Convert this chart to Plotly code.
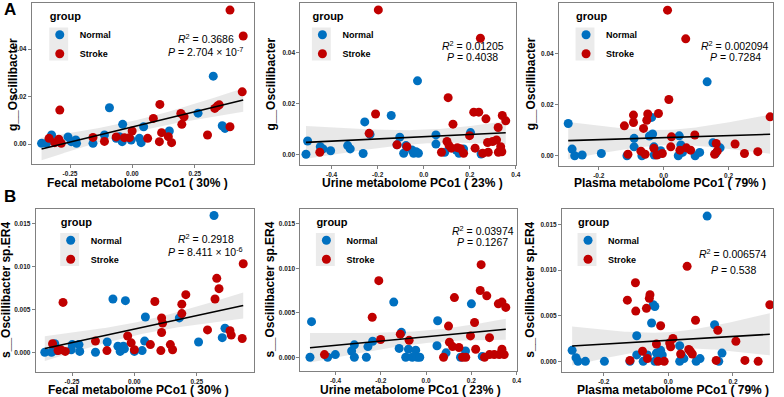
import numpy as np
import plotly.graph_objects as go

# ---------------- data ----------------
# Panel A1: Fecal PCo1 vs g__Oscillibacter
p1_normal_x = [-0.364, -0.344, -0.324, -0.258, -0.245, -0.227, -0.224, -0.158, -0.112, -0.092, -0.065, -0.052,
               -0.039, -0.041, -0.005, 0.028, 0.035, 0.045, 0.148, 0.263, 0.324, 0.360, 0.371]
p1_normal_y = [0.0003, 0.0003, 0.0038, 0.0030, 0.0010, 0.0017, 0.0003, 0.0003, 0.0038, 0.0153, 0.0024, 0.0031,
               0.0083, 0.0010, 0.0017, 0.0024, 0.0006, 0.0073, 0.0055, 0.0130, 0.0286, 0.0077, 0.0066]
p1_stroke_x = [-0.334, -0.311, -0.295, -0.291, -0.285, -0.158, -0.112, -0.065, -0.032, -0.012, -0.001, 0.061,
               0.084, 0.108, 0.110, 0.117, 0.144, 0.157, 0.194, 0.198, 0.207, 0.301, 0.330, 0.340, 0.348,
               0.391, 0.391, 0.440, 0.444]
p1_stroke_y = [0.0024, 0.0006, 0.0020, 0.0143, 0.0003, 0.0028, 0.0011, 0.0030, 0.0027, 0.0027, 0.0055, 0.0024,
               0.0108, 0.0010, 0.0167, 0.0048, 0.0031, 0.0006, 0.0129, 0.0083, 0.0115, 0.0038, 0.0150, 0.0160,
               0.0165, 0.0564, 0.0073, 0.0220, 0.0455]

# Panel A2: Urine PCo1 vs g__Oscillibacter
p2_normal_x = [-0.511, -0.504, -0.449, -0.437, -0.404, -0.330, -0.319, -0.263, -0.256, -0.233, -0.141, -0.116,
               -0.104, -0.087, -0.077, -0.051, -0.044, -0.033, -0.023, -0.027, 0.053, 0.053, 0.091, 0.141,
               0.153, 0.173, 0.203, 0.249]
p2_normal_y = [0.0000, 0.0052, 0.0030, 0.0021, 0.0014, 0.0034, 0.0021, 0.0003, 0.0127, 0.0078, 0.0152, 0.0037,
               0.0067, 0.0004, 0.0034, 0.0017, 0.0004, 0.0010, 0.0004, 0.0288, 0.0076, 0.0040, 0.0008, 0.0017,
               0.0004, 0.0021, 0.0085, 0.0001]
p2_stroke_x = [-0.451, -0.237, -0.209, -0.197, -0.116, -0.073, 0.077, 0.106, 0.101, 0.110, 0.120, 0.127,
               0.146, 0.159, 0.173, 0.199, 0.217, 0.223, 0.239, 0.246, 0.256, 0.270, 0.277, 0.280, 0.299,
               0.316, 0.323, 0.324, 0.334, 0.341, 0.356, 0.339]
p2_stroke_y = [0.0008, 0.0082, 0.0158, 0.0566, 0.0037, 0.0030, 0.0008, 0.0222, 0.0050, 0.0034, 0.0024, 0.0118,
               0.0026, 0.0022, 0.0004, 0.0073, 0.0165, 0.0024, 0.0165, 0.0455, 0.0004, 0.0139, 0.0046, 0.0008,
               0.0050, 0.0056, 0.0105, 0.0008, 0.0030, 0.0152, 0.0131, 0.0010]

# Panel A3: Plasma PCo1 vs g__Oscillibacter
p3_normal_x = [-0.294, -0.282, -0.274, -0.251, -0.192, -0.113, -0.091, -0.091, -0.067, -0.044, -0.037, -0.034,
               -0.030, -0.029, -0.016, -0.009, 0.045, 0.048, 0.053, 0.058, 0.097, 0.111, 0.134, 0.152, 0.160,
               0.174]
p3_normal_y = [0.0126, 0.0026, 0.0000, 0.0003, 0.0009, 0.0000, 0.0068, 0.0035, 0.0000, 0.0077, 0.0150, 0.0085,
               0.0035, 0.0003, 0.0006, 0.0020, 0.0000, 0.0078, 0.0042, 0.0013, 0.0000, 0.0013, 0.0289, 0.0051,
               0.0009, 0.0031]
p3_stroke_x = [-0.121, -0.110, -0.093, -0.093, -0.070, -0.062, -0.057, -0.052, -0.049, -0.030, -0.021, -0.016,
               -0.004, 0.012, 0.016, 0.024, 0.022, 0.050, 0.068, 0.070, 0.083, 0.096, 0.157, 0.162, 0.165,
               0.220, 0.249, 0.290, 0.328]
p3_stroke_y = [0.0117, 0.0006, 0.0159, 0.0130, 0.0018, 0.0107, 0.0006, 0.0139, 0.0163, 0.0029, 0.0003, 0.0165,
               0.0009, 0.0569, 0.0220, 0.0074, 0.0035, 0.0022, 0.0457, 0.0031, 0.0022, 0.0081, 0.0006, 0.0048,
               0.0018, 0.0046, 0.0009, 0.0016, 0.0152]

# Panel B1: Fecal PCo1 vs s__Oscillibacter sp.ER4
p4_normal_x = [-0.359, -0.332, -0.319, -0.312, -0.253, -0.249, -0.222, -0.219, -0.156, -0.109, -0.086, -0.066,
               -0.057, -0.044, -0.036, -0.040, 0.000, 0.031, 0.041, 0.044, 0.180, 0.257, 0.319, 0.352, 0.363]
p4_normal_y = [0.0000, 0.0000, 0.0010, 0.0002, 0.0003, 0.0009, 0.0009, 0.0001, 0.0000, 0.0012, 0.0062, 0.0007,
               0.0001, 0.0007, 0.0060, 0.0004, 0.0001, 0.0002, 0.0013, 0.0041, 0.0040, 0.0012, 0.0159, 0.0017,
               0.0028]
p4_stroke_x = [-0.328, -0.306, -0.295, -0.286, -0.277, -0.156, -0.110, -0.027, -0.013, 0.000, 0.064, 0.082,
               0.106, 0.109, 0.113, 0.109, 0.144, 0.153, 0.190, 0.190, 0.206, 0.293, 0.323, 0.330, 0.339,
               0.383, 0.388, 0.432, 0.436]
p4_stroke_y = [0.0010, 0.0002, 0.0003, 0.0058, 0.0001, 0.0013, 0.0002, 0.0019, 0.0011, 0.0003, 0.0009, 0.0059,
               0.0002, 0.0040, 0.0034, 0.0023, 0.0009, 0.0003, 0.0045, 0.0056, 0.0067, 0.0026, 0.0062, 0.0086,
               0.0074, 0.0025, 0.0020, 0.0016, 0.0103]

# Panel B2: Urine PCo1 vs s__Oscillibacter sp.ER4
p5_normal_x = [-0.513, -0.506, -0.435, -0.401, -0.329, -0.317, -0.317, -0.264, -0.257, -0.236, -0.143, -0.109,
               -0.119, -0.090, -0.078, -0.061, -0.046, -0.039, -0.028, 0.051, 0.048, 0.088, 0.152, 0.174,
               0.200, 0.248]
p5_normal_y = [0.0000, 0.0040, 0.0000, 0.0003, 0.0007, 0.0014, 0.0000, 0.0000, 0.0012, 0.0018, 0.0062, 0.0028,
               0.0010, 0.0000, 0.0009, 0.0000, 0.0008, 0.0000, 0.0000, 0.0041, 0.0013, 0.0005, 0.0000, 0.0007,
               0.0060, 0.0001]
p5_stroke_x = [-0.449, -0.238, -0.209, -0.201, -0.114, -0.075, 0.077, 0.099, 0.103, 0.117, 0.125, 0.145,
               0.161, 0.175, 0.196, 0.214, 0.219, 0.239, 0.243, 0.258, 0.268, 0.280, 0.280, 0.301, 0.319,
               0.323, 0.335, 0.335, 0.352, 0.345]
p5_stroke_y = [0.0003, 0.0045, 0.0086, 0.0020, 0.0026, 0.0019, 0.0000, 0.0035, 0.0017, 0.0012, 0.0067, 0.0011,
               0.0000, 0.0000, 0.0024, 0.0039, 0.0009, 0.0075, 0.0104, 0.0000, 0.0069, 0.0022, 0.0003, 0.0003,
               0.0060, 0.0003, 0.0062, 0.0009, 0.0056, 0.0003]

# Panel B3: Plasma PCo1 vs s__Oscillibacter sp.ER4
p6_normal_x = [-0.298, -0.286, -0.280, -0.257, -0.198, -0.119, -0.098, -0.098, -0.078, -0.065, -0.052, -0.047,
               -0.042, -0.042, -0.037, -0.024, -0.019, 0.035, 0.035, 0.040, 0.048, 0.086, 0.098, 0.120, 0.143,
               0.156, 0.166]
p6_normal_y = [0.0012, 0.0004, 0.0000, 0.0000, 0.0000, 0.0000, 0.0007, 0.0028, 0.0000, 0.0007, 0.0042, 0.0062,
               0.0060, 0.0000, 0.0009, 0.0012, 0.0007, 0.0017, 0.0000, 0.0007, 0.0003, 0.0000, 0.0003, 0.0159,
               0.0040, 0.0000, 0.0009]
p6_stroke_x = [-0.127, -0.119, -0.102, -0.101, -0.080, -0.068, -0.065, -0.059, -0.057, -0.037, -0.032, -0.024,
               -0.013, 0.004, 0.007, 0.014, 0.038, 0.058, 0.063, 0.068, 0.074, 0.084, 0.148, 0.153, 0.209,
               0.237, 0.278, 0.314]
p6_stroke_y = [0.0067, 0.0001, 0.0086, 0.0055, 0.0011, 0.0058, 0.0003, 0.0069, 0.0073, 0.0019, 0.0000, 0.0039,
               0.0000, 0.0020, 0.0016, 0.0025, 0.0008, 0.0104, 0.0013, 0.0011, 0.0008, 0.0045, 0.0001, 0.0034,
               0.0022, 0.0001, 0.0000, 0.0062]

# fitted regression lines as drawn in the reference (intercept, slope), one per panel
fit_intercept = [0.0072, 0.0069, 0.0071, 0.0027, 0.0023, 0.0023]
fit_slope = [0.0255, 0.0044, 0.0040, 0.0063, 0.0024, 0.0021]

x_titles = ["Fecal metabolome PCo1 ( 30% )", "Urine metabolome PCo1 ( 23% )", "Plasma metabolome PCo1 ( 79% )"] * 2
y_titles = ["g__Oscillibacter"] * 3 + ["s__Oscillibacter sp.ER4"] * 3
r2_labels = ["0.3686", "0.01205", "0.002094", "0.2918", "0.03974", "0.006574"]
p_labels = ["2.704 × 10<sup>-7</sup>", "0.4038", "0.7284", "8.411 × 10<sup>-6</sup>", "0.1267", "0.538"]
group_names = ["Normal", "Stroke"]

# ---------------- styling / layout ----------------
W, H = 784, 397
BLUE = "#0070C0"
RED = "#C00000"
FONT = "Liberation Sans, Arial, sans-serif"
T975 = 2.005  # t quantile for 95% band


def fx(p):
    return p / W


def fy(p):
    return 1 - p / H


# panel boxes in pixels: (left, right, top, bottom)
boxes = [(32, 255, 3, 164), (302, 519, 3, 165), (562, 777, 3, 166),
         (36, 255, 209, 372), (302, 520, 209, 371), (565, 777, 209, 372)]
xranges = [[-0.403, 0.486], [-0.535, 0.402], [-0.322, 0.337],
           [-0.395, 0.478], [-0.555, 0.403], [-0.329, 0.324]]
yranges = [[-0.0084, 0.0594], [-0.0042, 0.0593], [-0.0040, 0.0597],
           [-0.00229, 0.01666], [-0.00154, 0.01665], [-0.00117, 0.01668]]
xtick_vals = [[-0.25, 0, 0.25], [-0.4, -0.2, 0, 0.2, 0.4], [-0.2, 0, 0.2]] * 2
xtick_text = [["-0.25", "0.00", "0.25"], ["-0.4", "-0.2", "0.0", "0.2", "0.4"], ["-0.2", "0.0", "0.2"]] * 2
ytick_vals = [[0, 0.02, 0.04]] * 3 + [[0, 0.005, 0.010, 0.015]] * 3
ytick_text = [["0.00", "0.02", "0.04"]] * 3 + [["0.000", "0.005", "0.010", "0.015"]] * 3
xtitle_pos = [(138.5, 183.5), (415, 183.5), (673.5, 183.5), (139, 390), (412.5, 390), (676.5, 390)]
ytitle_pos = [(13, 84), (272, 84), (534, 84), (6, 290), (271, 290), (532.5, 290)]
legend_key = [(59, 43.5), (323, 43.5), (588, 43.5), (70, 249), (327, 249), (590, 249)]
stat_pos = [(207, 39, 51), (475, 46, 57.5), (739, 46, 57.5), (207, 238.5, 251), (485, 230, 242), (737, 253.5, 270)]

data = [
    (p1_normal_x, p1_normal_y, p1_stroke_x, p1_stroke_y),
    (p2_normal_x, p2_normal_y, p2_stroke_x, p2_stroke_y),
    (p3_normal_x, p3_normal_y, p3_stroke_x, p3_stroke_y),
    (p4_normal_x, p4_normal_y, p4_stroke_x, p4_stroke_y),
    (p5_normal_x, p5_normal_y, p5_stroke_x, p5_stroke_y),
    (p6_normal_x, p6_normal_y, p6_stroke_x, p6_stroke_y),
]

fig = go.Figure()
annotations = []
shapes = []
layout = {}

for i, (nx, ny, sx, sy) in enumerate(data):
    k = i + 1
    xa = "x" if k == 1 else f"x{k}"
    ya = "y" if k == 1 else f"y{k}"
    leg = "legend" if k == 1 else f"legend{k}"
    L, R, T, B = boxes[i]

    # regression line + 95% confidence band (band width from the scatter of the points)
    allx = np.array(nx + sx)
    ally = np.array(ny + sy)
    n = len(allx)
    a, b = fit_intercept[i], fit_slope[i]
    resid = ally - (a + b * allx)
    s = np.sqrt(np.sum(resid ** 2) / (n - 2))
    xbar = allx.mean()
    sxx = np.sum((allx - xbar) ** 2)
    grid = np.linspace(allx.min(), allx.max(), 80)
    fit = a + b * grid
    se = s * np.sqrt(1 / n + (grid - xbar) ** 2 / sxx)
    lo, hi = fit - T975 * se, fit + T975 * se

    fig.add_trace(go.Scatter(x=np.concatenate([grid, grid[::-1]]), y=np.concatenate([hi, lo[::-1]]),
                             fill="toself", fillcolor="rgba(190,190,190,0.35)", line=dict(width=0),
                             mode="lines", hoverinfo="skip", showlegend=False, xaxis=xa, yaxis=ya))
    for gx, gy, name, col in [(nx, ny, group_names[0], BLUE), (sx, sy, group_names[1], RED)]:
        fig.add_trace(go.Scatter(x=gx, y=gy, mode="markers", name=name,
                                 marker=dict(color=col, size=9, line=dict(width=0)),
                                 xaxis=xa, yaxis=ya, legend=leg, showlegend=True))
    fig.add_trace(go.Scatter(x=grid, y=fit, mode="lines", line=dict(color="black", width=1.6),
                             hoverinfo="skip", showlegend=False, xaxis=xa, yaxis=ya))

    axis_common = dict(showline=True, linecolor="#808080", linewidth=1.2, mirror=True, showgrid=False,
                       zeroline=False, ticks="outside", ticklen=3, tickcolor="#808080", tickwidth=1,
                       tickfont=dict(family=FONT, size=6.5, color="#222222", weight="bold"))
    layout["xaxis" if k == 1 else f"xaxis{k}"] = dict(
        domain=[fx(L), fx(R)], range=xranges[i], anchor=ya, tickvals=xtick_vals[i], ticktext=xtick_text[i],
        **axis_common)
    layout["yaxis" if k == 1 else f"yaxis{k}"] = dict(
        domain=[fy(B), fy(T)], range=yranges[i], anchor=xa, tickvals=ytick_vals[i], ticktext=ytick_text[i],
        **axis_common)

    # axis titles
    annotations.append(dict(x=fx(xtitle_pos[i][0]), y=fy(xtitle_pos[i][1]), xref="paper", yref="paper",
                            text=f"<b>{x_titles[i]}</b>", showarrow=False, xanchor="center", yanchor="middle",
                            font=dict(family=FONT, size=12, color="black")))
    annotations.append(dict(x=fx(ytitle_pos[i][0]), y=fy(ytitle_pos[i][1]), xref="paper", yref="paper",
                            text=f"<b>{y_titles[i]}</b>", showarrow=False, textangle=-90, xanchor="center",
                            yanchor="middle", font=dict(family=FONT, size=12, color="black")))
    # statistics
    cx, y1, y2 = stat_pos[i]
    annotations.append(dict(x=fx(cx), y=fy(y1), xref="paper", yref="paper",
                            text=f"<i>R</i><sup>2</sup> = {r2_labels[i]}", showarrow=False,
                            xanchor="center", yanchor="middle", font=dict(family=FONT, size=10.5, color="black")))
    annotations.append(dict(x=fx(cx), y=fy(y2), xref="paper", yref="paper",
                            text=f"<i>P</i> = {p_labels[i]}", showarrow=False,
                            xanchor="center", yanchor="middle", font=dict(family=FONT, size=10.5, color="black")))

    # legend with grey key background
    dx, dm = legend_key[i]
    shapes.append(dict(type="rect", xref="paper", yref="paper", x0=fx(dx - 9.5), x1=fx(dx + 9.5),
                       y0=fy(dm + 17), y1=fy(dm - 16), fillcolor="#ebebeb", line=dict(width=0), layer="below"))
    layout[leg] = dict(x=fx(dx - 11), y=fy(dm - 9.5 - 28), xanchor="left", yanchor="top",
                       bgcolor="rgba(0,0,0,0)", borderwidth=0, itemwidth=30, tracegroupgap=0,
                       traceorder="normal", indentation=-8,
                       title=dict(text="<b>group</b>", font=dict(family=FONT, size=11, color="black")),
                       font=dict(family=FONT, size=9, color="black", weight="bold"))

annotations.append(dict(x=fx(2), y=fy(9), xref="paper", yref="paper", text="<b>A</b>", showarrow=False,
                        xanchor="left", yanchor="middle", font=dict(family=FONT, size=17, color="black")))
annotations.append(dict(x=fx(2), y=fy(196), xref="paper", yref="paper", text="<b>B</b>", showarrow=False,
                        xanchor="left", yanchor="middle", font=dict(family=FONT, size=17, color="black")))

fig.update_layout(width=W, height=H, margin=dict(l=0, r=0, t=0, b=0), paper_bgcolor="white",
                  plot_bgcolor="white", annotations=annotations, shapes=shapes, **layout)
fig.write_html("out.html", config={"displayModeBar": False},
               post_script="document.body.style.margin='0px';document.body.style.overflow='hidden';")
